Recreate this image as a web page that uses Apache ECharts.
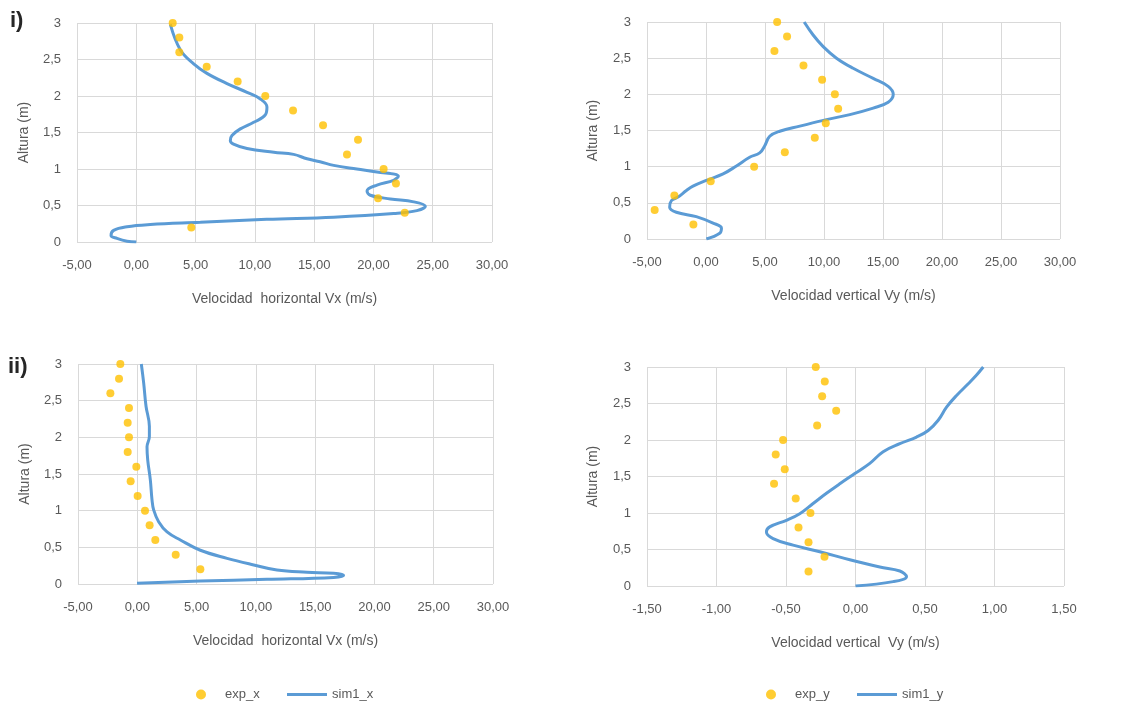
<!DOCTYPE html>
<html>
<head>
<meta charset="utf-8">
<script src="https://cdn.jsdelivr.net/npm/echarts@6/dist/echarts.min.js"></script>
<style>
  html, body { margin: 0; padding: 0; background: #ffffff; }
  #chart { width: 1123px; height: 704px; }
</style>
</head>
<body>
<div id="chart"></div>
<script>
// alturas de las medidas experimentales (m)
const expH = [3.0, 2.8, 2.6, 2.4, 2.2, 2.0, 1.8, 1.6, 1.4, 1.2, 1.0, 0.8, 0.6, 0.4, 0.2]

// caso i) - experimental
const expX_i = [3.07, 3.63, 3.63, 5.94, 8.55, 10.88, 13.22, 15.75, 18.7, 17.77, 20.86, 21.9, 20.39, 22.64, 4.64]
const expY_i = [6.03, 6.87, 5.8, 8.26, 9.84, 10.92, 11.2, 10.15, 9.22, 6.68, 4.08, 0.4, -2.68, -4.35, -1.07]

// caso i) - simulacion Vx
const simX_i_v = [2.87, 3.72, 4.84, 5.96, 7.65, 9.34, 10.46, 11.02, 10.88, 9.9, 8.78, 8.07, 7.93, 8.2, 9.34, 11.6, 13.27, 14.4, 15.5, 16.65, 18.6, 20.3, 22.1, 21.7, 20.3, 19.46, 19.74, 21.43, 23.4, 24.38, 23.67, 21.7, 16.65, 11.0, 5.4, 1.18, -0.78, -1.91, -2.13, -1.63, -0.78, 0.0]
const simX_i_h = [2.98, 2.63, 2.44, 2.31, 2.17, 2.05, 1.96, 1.85, 1.74, 1.64, 1.55, 1.46, 1.39, 1.34, 1.28, 1.23, 1.2, 1.14, 1.1, 1.05, 1.0, 0.96, 0.9, 0.845, 0.78, 0.7, 0.64, 0.59, 0.55, 0.49, 0.43, 0.39, 0.34, 0.31, 0.27, 0.24, 0.21, 0.16, 0.09, 0.05, 0.01, 0.0]

// caso i) - simulacion Vy
const simY_i_v = [8.32, 9.08, 9.93, 11.06, 12.47, 14.17, 15.44, 15.87, 15.44, 14.17, 12.19, 10.21, 7.95, 6.25, 5.4, 4.98, 4.55, 3.7, 2.58, 1.45, 0.03, -1.1, -1.66, -2.37, -2.93, -3.08, -2.51, -0.82, 0.6, 1.31, 1.16, 0.03]
const simY_i_h = [3.0, 2.82, 2.66, 2.5, 2.36, 2.22, 2.11, 2.0, 1.89, 1.81, 1.72, 1.65, 1.56, 1.49, 1.42, 1.29, 1.19, 1.13, 1.01, 0.9, 0.81, 0.73, 0.67, 0.58, 0.53, 0.44, 0.37, 0.31, 0.22, 0.15, 0.08, 0.0]

// caso ii) - experimental
const expX_ii = [-1.43, -1.54, -2.27, -0.7, -0.81, -0.7, -0.81, -0.08, -0.56, 0.03, 0.65, 1.04, 1.52, 3.24, 5.32]
const expY_ii = [-0.286, -0.221, -0.24, -0.139, -0.276, -0.521, -0.574, -0.509, -0.586, -0.43, -0.324, -0.41, -0.338, -0.223, -0.338]

// caso ii) - simulacion Vx
const simX_ii_v = [0.34, 0.54, 0.74, 1.02, 1.02, 0.82, 0.88, 1.1, 1.24, 1.38, 1.8, 2.51, 3.63, 5.32, 7.57, 9.82, 11.78, 14.31, 16.56, 17.4, 16.56, 10.94, 5.32, -0.02]
const simX_ii_h = [3.0, 2.74, 2.42, 2.15, 2.01, 1.87, 1.69, 1.42, 1.15, 1.01, 0.85, 0.71, 0.6, 0.46, 0.35, 0.26, 0.19, 0.16, 0.145, 0.12, 0.09, 0.064, 0.04, 0.01]

// caso ii) - simulacion Vy
const simY_ii_v = [0.919, 0.871, 0.811, 0.727, 0.655, 0.595, 0.523, 0.439, 0.319, 0.199, 0.103, -0.005, -0.113, -0.209, -0.305, -0.401, -0.497, -0.617, -0.641, -0.593, -0.449, -0.257, -0.041, 0.175, 0.319, 0.367, 0.271, 0.0]
const simY_ii_h = [3.0, 2.89, 2.77, 2.61, 2.45, 2.27, 2.13, 2.04, 1.95, 1.84, 1.68, 1.54, 1.4, 1.27, 1.13, 0.99, 0.9, 0.81, 0.74, 0.65, 0.56, 0.47, 0.36, 0.26, 0.205, 0.128, 0.06, 0.0]

const ORANGE = '#FFC000'
const BLUE = '#5B9BD5'
const GREY_TXT = '#595959'
const GRID_LINE = '#D9D9D9'
const FONT = 'Liberation Sans'

const zip = (a, b) => a.map((v, i) => [v, b[i]])
const comma = (v, d) => (d === undefined ? String(v) : v.toFixed(d)).replace('.', ',')

function xAxis(idx, name, min, max, step) {
  return {
    type: 'value', gridIndex: idx, min: min, max: max, interval: step,
    name: name, nameLocation: 'middle', nameGap: 50,
    nameTextStyle: { color: GREY_TXT, fontSize: 14, fontFamily: FONT },
    axisLine: { show: false }, axisTick: { show: false },
    axisLabel: { color: GREY_TXT, fontSize: 13, fontFamily: FONT, margin: 17, formatter: v => comma(v, 2) },
    splitLine: { show: true, lineStyle: { color: GRID_LINE, width: 1 } }
  }
}

function yAxis(idx, gap) {
  return {
    type: 'value', gridIndex: idx, min: 0, max: 3, interval: 0.5,
    name: 'Altura (m)', nameLocation: 'middle', nameGap: gap,
    nameTextStyle: { color: GREY_TXT, fontSize: 14, fontFamily: FONT },
    axisLine: { show: false }, axisTick: { show: false },
    axisLabel: { color: GREY_TXT, fontSize: 13, fontFamily: FONT, margin: 16, formatter: v => comma(v) },
    splitLine: { show: true, lineStyle: { color: GRID_LINE, width: 1 } }
  }
}

function expSeries(name, idx, xs) {
  return {
    name: name, type: 'scatter', xAxisIndex: idx, yAxisIndex: idx,
    data: zip(xs, expH), symbol: 'circle', symbolSize: 8,
    itemStyle: { color: ORANGE }, z: 3
  }
}

function simSeries(name, idx, xs, hs) {
  return {
    name: name, type: 'line', xAxisIndex: idx, yAxisIndex: idx,
    data: zip(xs, hs), smooth: 0.4, showSymbol: false, symbol: 'none',
    lineStyle: { color: BLUE, width: 3 }, itemStyle: { color: BLUE }, z: 2
  }
}

function legend(name, icon, left, top, w, h, pad) {
  return {
    data: [{ name: name, icon: icon }], left: left, top: top, padding: 0,
    itemWidth: w, itemHeight: h,
    textStyle: { color: GREY_TXT, fontSize: 13, fontFamily: FONT, padding: [0, 0, 0, pad] }
  }
}

const chart = echarts.init(document.getElementById('chart'))

chart.setOption({
  animation: false,
  backgroundColor: '#ffffff',
  grid: [
    { left: 77, top: 23, width: 415, height: 219 },
    { left: 647, top: 22, width: 413, height: 217 },
    { left: 78, top: 364, width: 415, height: 220 },
    { left: 647, top: 367, width: 417, height: 219 }
  ],
  xAxis: [
    xAxis(0, 'Velocidad  horizontal Vx (m/s)', -5, 30, 5),
    xAxis(1, 'Velocidad vertical Vy (m/s)', -5, 30, 5),
    xAxis(2, 'Velocidad  horizontal Vx (m/s)', -5, 30, 5),
    xAxis(3, 'Velocidad vertical  Vy (m/s)', -1.5, 1.5, 0.5)
  ],
  yAxis: [yAxis(0, 46), yAxis(1, 47), yAxis(2, 46), yAxis(3, 47)],
  legend: [
    legend('exp_x', 'circle', 196, 688, 10, 10, 14),
    legend('sim1_x', 'rect', 287, 688, 40, 3, 0),
    legend('exp_y', 'circle', 766, 688, 10, 10, 14),
    legend('sim1_y', 'rect', 857, 688, 40, 3, 0)
  ],
  graphic: [
    { type: 'text', left: 10, top: 10, style: { text: 'i)', fontSize: 22, fontWeight: 'bold', fill: '#262626', fontFamily: FONT } },
    { type: 'text', left: 8, top: 356, style: { text: 'ii)', fontSize: 22, fontWeight: 'bold', fill: '#262626', fontFamily: FONT } }
  ],
  series: [
    expSeries('exp_x', 0, expX_i),
    simSeries('sim1_x', 0, simX_i_v, simX_i_h),
    expSeries('exp_y', 1, expY_i),
    simSeries('sim1_y', 1, simY_i_v, simY_i_h),
    expSeries('exp_x', 2, expX_ii),
    simSeries('sim1_x', 2, simX_ii_v, simX_ii_h),
    expSeries('exp_y', 3, expY_ii),
    simSeries('sim1_y', 3, simY_ii_v, simY_ii_h)
  ]
})

window.addEventListener('resize', () => chart.resize())
</script>
</body>
</html>
